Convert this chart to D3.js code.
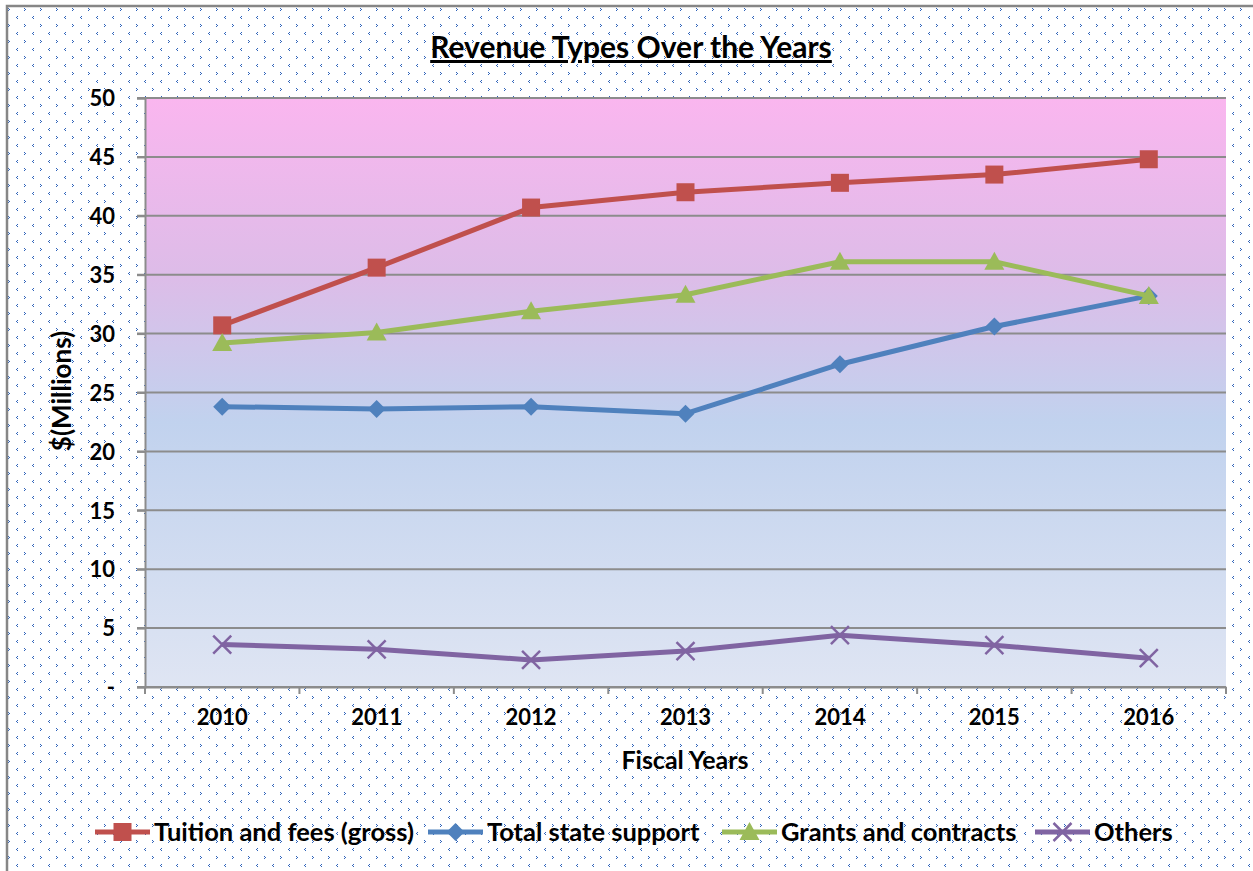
<!DOCTYPE html>
<html lang="en">
<head>
  <meta charset="UTF-8" />
  <title>Revenue Types Over the Years</title>
  <script src="https://d3js.org/d3.v7.min.js"></script>
  <style>
    body {
      margin: 0;
      background: white;
      font-family: Lato, "Open Sans", sans-serif;
    }
    svg { display: block; }
    .tick text {
      font-family: Lato, "Open Sans", sans-serif;
      font-size: 22px;
      font-weight: bold;
      fill: #000;
    }
  </style>
</head>
<body>
  <svg></svg>

  <script>
    const years = ["2010", "2011", "2012", "2013", "2014", "2015", "2016"];
    const tuition = [30.7, 35.6, 40.7, 42.0, 42.8, 43.5, 44.8];
    const stateSupport = [23.8, 23.6, 23.8, 23.2, 27.4, 30.6, 33.2];
    const grants = [29.2, 30.1, 31.9, 33.3, 36.1, 36.1, 33.2];
    const others = [3.6, 3.2, 2.3, 3.05, 4.4, 3.55, 2.45];
    const yTicks = [0, 5, 10, 15, 20, 25, 30, 35, 40, 45, 50];

    const series = [
      { name: "Tuition and fees (gross)", values: tuition, color: "#C0504D", marker: "square" },
      { name: "Total state support", values: stateSupport, color: "#4F81BD", marker: "diamond" },
      { name: "Grants and contracts", values: grants, color: "#9BBB59", marker: "triangle" },
      { name: "Others", values: others, color: "#8064A2", marker: "cross" }
    ];

    const width = 1253, height = 871;
    const plot = { left: 145, right: 1226, top: 98, bottom: 687 };

    const svg = d3.select("svg")
      .attr("width", width)
      .attr("height", height);

    const defs = svg.append("defs");

    // dotted background pattern of the chart area
    const pat = defs.append("pattern")
      .attr("id", "dots")
      .attr("patternUnits", "userSpaceOnUse")
      .attr("width", 16).attr("height", 16);
    pat.append("rect").attr("width", 16).attr("height", 16).attr("fill", "#fff");
    // ">" and "<" shapes made of single pixels
    [[8, 8], [9, 9], [8, 10], [1, 0], [0, 1], [1, 2]].forEach(p =>
      pat.append("rect")
        .attr("x", p[0]).attr("y", p[1])
        .attr("width", 1).attr("height", 1)
        .attr("shape-rendering", "crispEdges")
        .attr("fill", "#2F63BA"));

    const grad = defs.append("linearGradient")
      .attr("id", "plotGrad")
      .attr("x1", 0).attr("y1", 0).attr("x2", 0).attr("y2", 1);
    grad.append("stop").attr("offset", "0%").attr("stop-color", "#FAB6EF");
    grad.append("stop").attr("offset", "30%").attr("stop-color", "#DDBCE8");
    grad.append("stop").attr("offset", "55%").attr("stop-color", "#C1D2EE");
    grad.append("stop").attr("offset", "100%").attr("stop-color", "#DFE5F3");

    // chart area background + border
    svg.append("rect")
      .attr("x", 7).attr("y", 6)
      .attr("width", width + 10).attr("height", height + 10)
      .attr("fill", "url(#dots)")
      .attr("stroke", "#868686")
      .attr("stroke-width", 2.5);

    const x = d3.scaleBand()
      .domain(years)
      .range([plot.left, plot.right]);

    const y = d3.scaleLinear()
      .domain([0, 50])
      .range([plot.bottom, plot.top]);

    // plot area
    svg.append("rect")
      .attr("x", plot.left).attr("y", plot.top)
      .attr("width", plot.right - plot.left)
      .attr("height", plot.bottom - plot.top)
      .attr("fill", "url(#plotGrad)");

    // gridlines
    svg.append("g")
      .selectAll("line")
      .data(yTicks)
      .join("line")
      .attr("x1", plot.left - 8)
      .attr("x2", plot.right)
      .attr("y1", d => y(d))
      .attr("y2", d => y(d))
      .attr("stroke", "#8C8C8C")
      .attr("stroke-width", 2);

    // y axis
    const yAxis = svg.append("g")
      .attr("transform", `translate(${plot.left},0)`)
      .call(d3.axisLeft(y).tickValues(yTicks)
        .tickFormat(d => d === 0 ? "-" : d)
        .tickSize(8).tickPadding(22));
    yAxis.select(".domain").attr("stroke", "#8C8C8C").attr("stroke-width", 2);
    yAxis.selectAll(".tick line").attr("stroke", "#8C8C8C").attr("stroke-width", 2);
    yAxis.selectAll(".tick text").attr("dy", "0.35em");

    // x axis with ticks between categories
    const xAxis = svg.append("g")
      .attr("transform", `translate(0,${plot.bottom})`)
      .call(d3.axisBottom(x).tickSize(0).tickPadding(22));
    xAxis.select(".domain").attr("stroke", "#8C8C8C").attr("stroke-width", 2);
    const bounds = years.map(d => x(d)).concat([x(years[years.length - 1]) + x.bandwidth()]);
    xAxis.append("g")
      .selectAll("line")
      .data(bounds)
      .join("line")
      .attr("x1", d => d).attr("x2", d => d)
      .attr("y1", 0).attr("y2", 7)
      .attr("stroke", "#8C8C8C")
      .attr("stroke-width", 2);

    // titles
    svg.append("text")
      .attr("x", 631).attr("y", 58)
      .attr("text-anchor", "middle")
      .attr("font-size", 30)
      .attr("font-weight", "bold")
      .attr("text-decoration", "underline")
      .text("Revenue Types Over the Years");

    svg.append("text")
      .attr("x", 685).attr("y", 769)
      .attr("text-anchor", "middle")
      .attr("font-size", 25)
      .attr("font-weight", "bold")
      .text("Fiscal Years");

    svg.append("text")
      .attr("transform", "translate(71,391) rotate(-90)")
      .attr("text-anchor", "middle")
      .attr("font-size", 26)
      .attr("font-weight", "bold")
      .text("$(Millions)");

    const cx = d => x(d) + x.bandwidth() / 2;

    function drawMarker(g, type, color) {
      if (type === "square") {
        g.append("rect").attr("x", -9).attr("y", -9).attr("width", 18).attr("height", 18).attr("fill", color);
      } else if (type === "diamond") {
        g.append("path").attr("d", "M0,-9L9,0L0,9L-9,0Z").attr("fill", color);
      } else if (type === "triangle") {
        g.append("path").attr("d", "M0,-10L10,8L-10,8Z").attr("fill", color);
      } else {
        g.append("path").attr("d", "M-9,-9L9,9M-9,9L9,-9").attr("stroke", color).attr("stroke-width", 2.5).attr("fill", "none");
      }
    }

    const line = d3.line()
      .x((d, i) => cx(years[i]))
      .y(d => y(d));

    series.forEach(s => {
      svg.append("path")
        .datum(s.values)
        .attr("fill", "none")
        .attr("stroke", s.color)
        .attr("stroke-width", 5)
        .attr("stroke-linejoin", "round")
        .attr("d", line);

      svg.append("g")
        .selectAll("g")
        .data(s.values)
        .join("g")
        .attr("transform", (d, i) => `translate(${cx(years[i])},${y(d)})`)
        .each(function () { drawMarker(d3.select(this), s.marker, s.color); });
    });

    // legend
    const legendX = [95, 428, 722, 1035];
    const legend = svg.append("g");
    series.forEach((s, i) => {
      const g = legend.append("g").attr("transform", `translate(${legendX[i]},832)`);
      g.append("line")
        .attr("x1", 0).attr("x2", 55)
        .attr("stroke", s.color)
        .attr("stroke-width", 5);
      const m = g.append("g").attr("transform", "translate(27.5,0)");
      drawMarker(m, s.marker, s.color);
      g.append("text")
        .attr("x", 59).attr("y", 9)
        .attr("font-size", 25.5)
        .attr("font-weight", "bold")
        .text(s.name);
    });
  </script>
</body>
</html>
